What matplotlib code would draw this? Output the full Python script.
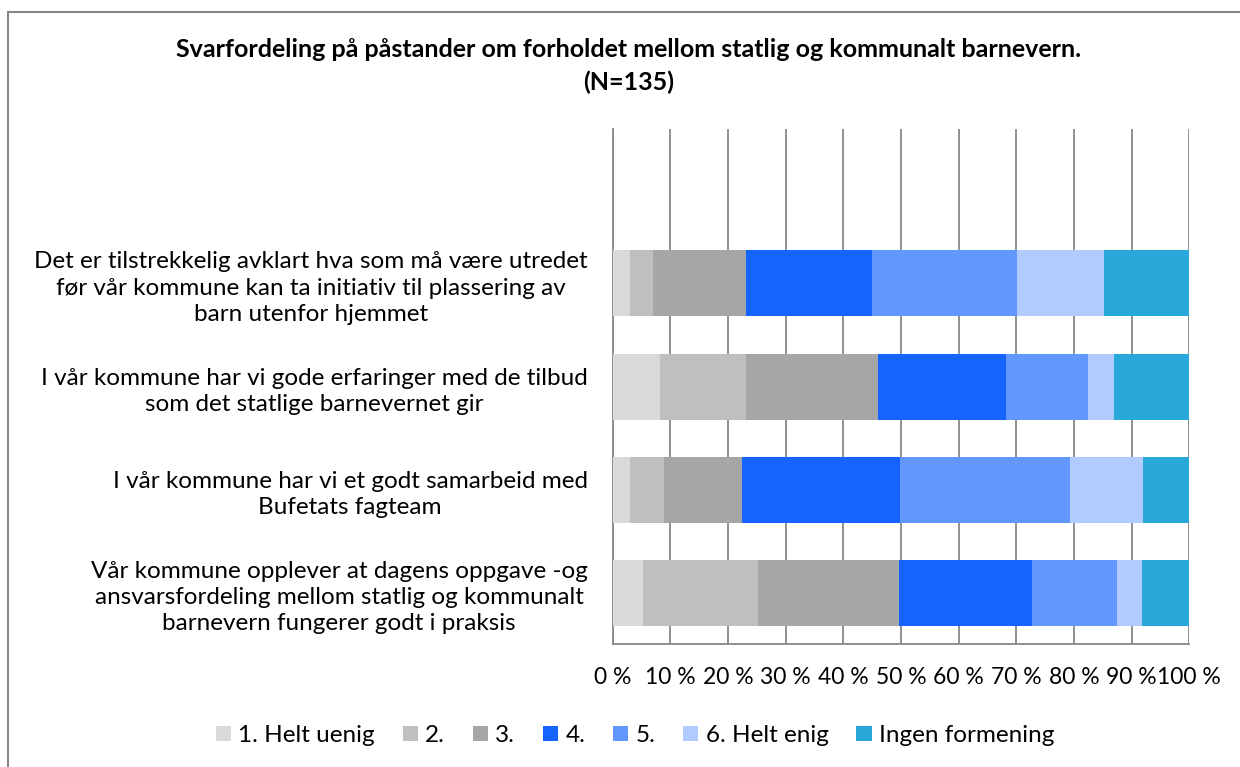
import matplotlib.pyplot as plt
from matplotlib.patches import Rectangle
import numpy as np

plt.rcParams['font.family'] = ['Lato', 'DejaVu Sans']

# utsagn, nederst til øverst
statements = [
    'Vår kommune opplever at dagens oppgave -og\nansvarsfordeling mellom statlig og kommunalt\nbarnevern fungerer godt i praksis',
    'I vår kommune har vi et godt samarbeid med\nBufetats fagteam',
    'I vår kommune har vi gode erfaringer med de tilbud\nsom det statlige barnevernet gir',
    'Det er tilstrekkelig avklart hva som må være utredet\nfør vår kommune kan ta initiativ til plassering av\nbarn utenfor hjemmet',
]

categories = ['1. Helt uenig', '2.', '3.', '4.', '5.', '6. Helt enig', 'Ingen formening']
colors = ['#D9D9D9', '#BFBFBF', '#A6A6A6', '#1564FF', '#6297FF', '#B1CBFF', '#29A9D9']

# prosent per svaralternativ, samme rekkefølge som statements
helt_uenig = [5.3, 3.1, 8.3, 3.1]
to = [20.0, 5.9, 14.8, 4.0]
tre = [24.4, 13.4, 23.0, 16.0]
fire = [23.0, 27.4, 22.1, 21.9]
fem = [14.7, 29.6, 14.2, 25.1]
helt_enig = [4.5, 12.6, 4.5, 15.1]
ingen = [8.1, 8.1, 13.2, 14.9]

series = [helt_uenig, to, tre, fire, fem, helt_enig, ingen]

fig = plt.figure(figsize=(12.4, 7.67), dpi=100)
ax = fig.add_axes([0.494, 0.160, 0.465, 0.672])

y = np.arange(len(statements))
left = np.zeros(len(statements))
for vals, lab, col in zip(series, categories, colors):
    vals = np.array(vals)
    ax.barh(y, vals, left=left, height=0.64, color=col, label=lab, zorder=3)
    left += vals

ax.set_xlim(0, 100)
ax.set_ylim(-0.5, 4.5)
ax.set_xticks(np.arange(0, 101, 10))
ax.set_xticklabels([f'{v} %' for v in range(0, 101, 10)], fontsize=16.5)
ax.set_yticks(y)
ax.set_yticklabels(statements, fontsize=17.5, ha='right', multialignment='center',
                   linespacing=1.32)
ax.tick_params(axis='both', length=0)
ax.tick_params(axis='y', pad=18)
ax.tick_params(axis='x', pad=16)

ax.grid(axis='x', color='#878787', linewidth=1.3, zorder=0)
for s in ['top', 'right']:
    ax.spines[s].set_visible(False)
for s in ['left', 'bottom']:
    ax.spines[s].set_color('#878787')
    ax.spines[s].set_linewidth(1.3)

fig.text(0.507, 0.914, 'Svarfordeling på påstander om forholdet mellom statlig og kommunalt barnevern.\n(N=135)',
         ha='center', va='center', fontsize=18, fontweight='bold', linespacing=1.45)

leg = fig.legend(loc='center', bbox_to_anchor=(0.512, 0.041), ncol=7, frameon=False,
                 fontsize=17.5, handlelength=0.62, handleheight=0.55, handletextpad=0.3,
                 columnspacing=1.15)

# ramme rundt diagrammet
fig.patches.append(Rectangle((8 / 1240, -0.1), 1.2, 1.1 - 12 / 767, transform=fig.transFigure,
                             fill=False, edgecolor='#888888', linewidth=1.5))

fig.savefig('out.png', dpi=100)
